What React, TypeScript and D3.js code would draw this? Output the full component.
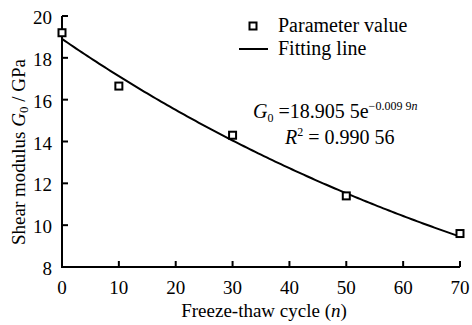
import React from "react";
import * as d3 from "d3";

// Measured shear modulus after freeze-thaw cycles
const cycles = [0, 10, 30, 50, 70];
const modulus = [19.2, 16.65, 14.3, 11.4, 9.6];

// Exponential fit G0 = a * e^(b n)
const fitA = 18.9055;
const fitB = -0.0099;

const xTicks = [0, 10, 20, 30, 40, 50, 60, 70];
const yTicks = [8, 10, 12, 14, 16, 18, 20];

const W = 472;
const H = 325;
const FONT = "Liberation Serif, Times New Roman, Times, serif";

export default function App() {
  const x = d3.scaleLinear().domain([0, 70]).range([62, 460]);
  const y = d3.scaleLinear().domain([8, 20]).range([267, 16]);

  const fitPts: [number, number][] = d3
    .range(0, 70.01, 0.5)
    .map((n) => [n, fitA * Math.exp(fitB * n)]);
  const line = d3
    .line<[number, number]>()
    .x((d) => x(d[0]))
    .y((d) => y(d[1]));

  const sq = 7;
  const fs = 19;
  const fl = 20;
  const ts = { fontFamily: FONT };

  return (
    <svg
      width={W}
      height={H}
      style={{ position: "absolute", left: 0, top: 0, background: "#fff", fontFamily: FONT }}
    >
      {/* axes */}
      <path
        d={`M${x(0)},${y(20)}V${y(8)}H${x(70)}`}
        fill="none"
        stroke="#000"
        strokeWidth={2}
      />
      {yTicks.map((t) => (
        <g key={"y" + t}>
          <line x1={x(0)} x2={x(0) + 6} y1={y(t)} y2={y(t)} stroke="#000" strokeWidth={2} />
          <text x={52} y={y(t) + 8} textAnchor="end" fontSize={fs} style={ts}>
            {t}
          </text>
        </g>
      ))}
      {xTicks.map((t) => (
        <g key={"x" + t}>
          <line x1={x(t)} x2={x(t)} y1={y(8)} y2={y(8) - 6} stroke="#000" strokeWidth={2} />
          <text x={x(t)} y={294} textAnchor="middle" fontSize={fs} style={ts}>
            {t}
          </text>
        </g>
      ))}

      {/* axis titles */}
      <text x={264} y={317} textAnchor="middle" fontSize={fs} style={ts}>
        Freeze-thaw cycle (<tspan fontStyle="italic">n</tspan>)
      </text>
      <text
        transform={`translate(25,152) rotate(-90)`}
        textAnchor="middle"
        fontSize={fs}
        style={ts}
      >
        Shear modulus <tspan fontStyle="italic">G</tspan>
        <tspan fontSize={13} dy={3}>0</tspan>
        <tspan dy={-3}> / GPa</tspan>
      </text>

      {/* fitted curve */}
      <path d={line(fitPts) ?? ""} fill="none" stroke="#000" strokeWidth={2} />

      {/* data points */}
      {cycles.map((c, i) => (
        <rect
          key={"p" + c}
          x={x(c) - sq / 2}
          y={y(modulus[i]) - sq / 2}
          width={sq}
          height={sq}
          fill="#fff"
          stroke="#000"
          strokeWidth={2}
        />
      ))}

      {/* legend */}
      <rect x={253 - sq / 2} y={26 - sq / 2} width={sq} height={sq} fill="#fff" stroke="#000" strokeWidth={2} />
      <text x={278} y={32} fontSize={fl} style={ts}>Parameter value</text>
      <line x1={239} x2={268} y1={49} y2={49} stroke="#000" strokeWidth={2} />
      <text x={278} y={55} fontSize={fl} style={ts}>Fitting line</text>

      {/* fit equation */}
      <text x={253} y={118} fontSize={fl} style={ts}>
        <tspan fontStyle="italic">G</tspan>
        <tspan fontSize={12} dy={4}>0</tspan>
        <tspan dy={-4}> =18.905 5e</tspan>
        <tspan fontSize={12} dy={-8}>−0.009 9</tspan>
        <tspan fontSize={12} fontStyle="italic">n</tspan>
      </text>
      <text x={285} y={144} fontSize={fl} style={ts}>
        <tspan fontStyle="italic">R</tspan>
        <tspan fontSize={12} dy={-8}>2</tspan>
        <tspan dy={8}> = 0.990 56</tspan>
      </text>
    </svg>
  );
}
